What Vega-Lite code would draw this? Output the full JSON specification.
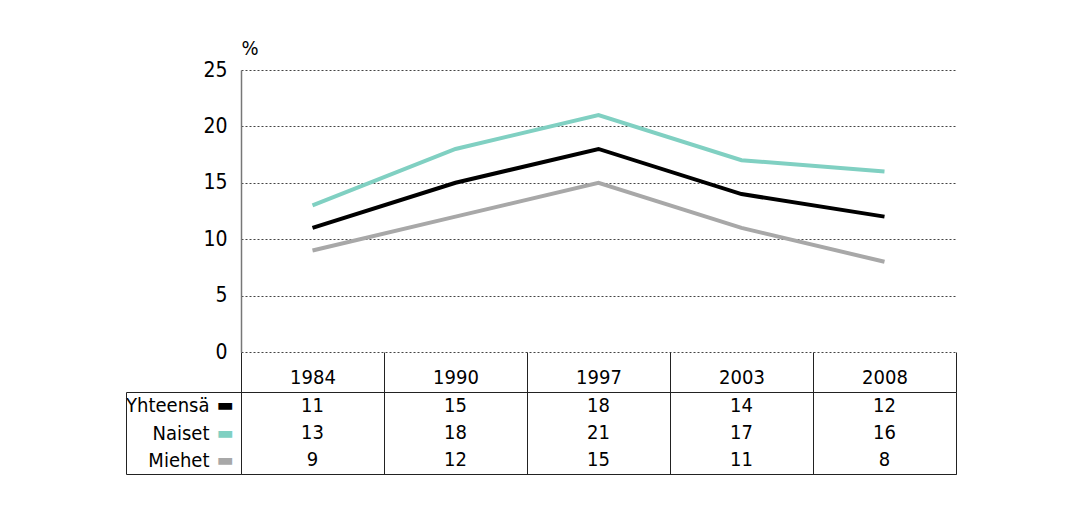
{
  "$schema": "https://vega.github.io/schema/vega-lite/v6.json",
  "padding": {"left": 125, "top": 38, "right": 10, "bottom": 10},
  "background": "white",
  "config": {
    "font": "DejaVu Sans Condensed",
    "view": {"stroke": null}
  },
  "data": {
    "values": [
      {"year": "1984", "series": "Yhteensä", "value": 11},
      {"year": "1990", "series": "Yhteensä", "value": 15},
      {"year": "1997", "series": "Yhteensä", "value": 18},
      {"year": "2003", "series": "Yhteensä", "value": 14},
      {"year": "2008", "series": "Yhteensä", "value": 12},
      {"year": "1984", "series": "Naiset", "value": 13},
      {"year": "1990", "series": "Naiset", "value": 18},
      {"year": "1997", "series": "Naiset", "value": 21},
      {"year": "2003", "series": "Naiset", "value": 17},
      {"year": "2008", "series": "Naiset", "value": 16},
      {"year": "1984", "series": "Miehet", "value": 9},
      {"year": "1990", "series": "Miehet", "value": 12},
      {"year": "1997", "series": "Miehet", "value": 15},
      {"year": "2003", "series": "Miehet", "value": 11},
      {"year": "2008", "series": "Miehet", "value": 8}
    ]
  },
  "spacing": 40,
  "bounds": "flush",
  "vconcat": [
    {
      "width": 715,
      "height": 282,
      "mark": {"type": "line", "strokeWidth": 4},
      "encoding": {
        "x": {
          "field": "year", "type": "ordinal",
          "scale": {"paddingInner": 0, "paddingOuter": 0},
          "axis": {"title": null, "domain": false, "grid": false, "tickBand": "extent", "tickSize": 40, "tickColor": "#222", "tickWidth": 1, "labelAngle": 0, "labelFontSize": 20, "labelColor": "#000", "labelPadding": -25, "labelBaseline": "top"}
        },
        "y": {
          "field": "value", "type": "quantitative",
          "scale": {"domain": [0, 25]},
          "axis": {"values": [0, 5, 10, 15, 20, 25], "title": "%", "titleAngle": 0, "titleX": 0, "titleY": -12, "titleAlign": "left", "titleBaseline": "bottom", "titleFontSize": 20, "titleFontWeight": "normal", "titleColor": "#000", "labelFontSize": 21, "labelColor": "#000", "ticks": false, "labelPadding": 14, "domainColor": "#777", "domainWidth": 1.5, "gridDash": [2, 2], "gridColor": "#444", "gridOpacity": 1}
        },
        "color": {
          "field": "series", "type": "nominal",
          "scale": {"domain": ["Yhteensä", "Naiset", "Miehet"], "range": ["#000000", "#80d0c2", "#a8a8a8"]},
          "legend": null
        }
      }
    },
    {
      "width": 715,
      "height": 82,
      "view": {"stroke": "#222"},
      "layer": [
        {
          "mark": {"type": "text", "fontSize": 20, "color": "#000"},
          "encoding": {
            "x": {
              "field": "year", "type": "ordinal",
              "scale": {"paddingInner": 0, "paddingOuter": 0},
              "axis": {"title": null, "labels": false, "ticks": false, "domain": false, "grid": true, "tickBand": "extent", "gridColor": "#222", "gridOpacity": 1, "gridWidth": 1}
            },
            "y": {
              "field": "series", "type": "nominal",
              "scale": {"domain": ["Yhteensä", "Naiset", "Miehet"], "paddingInner": 0, "paddingOuter": 0},
              "axis": {"title": null, "orient": "left", "offset": 115, "domain": true, "domainColor": "#222", "ticks": true, "tickBand": "extent", "tickSize": -115, "tickColor": "#222", "tickOpacity": {"condition": {"test": "datum.value === 'Naiset' || (datum.value === 'Yhteensä' && !datum.extra)", "value": 0}, "value": 1}, "labelFontSize": 20, "labelColor": "#000", "labelPadding": 32, "labelAlign": "right", "grid": false}
            },
            "text": {"field": "value", "type": "quantitative"}
          }
        },
        {
          "mark": {"type": "text", "fontSize": 20, "opacity": 0},
          "encoding": {
            "x": {
              "field": "year", "type": "ordinal",
              "scale": {"paddingInner": 0, "paddingOuter": 0},
              "axis": {"title": null, "labels": false, "ticks": false, "domain": false, "grid": true, "tickBand": "extent", "gridColor": "#222", "gridOpacity": 1, "gridWidth": 1}
            },
            "y": {
              "field": "series", "type": "nominal",
              "scale": {"domain": ["Yhteensä", "Naiset", "Miehet"], "paddingInner": 0, "paddingOuter": 0},
              "axis": {"title": null, "orient": "left", "offset": 0, "domain": false, "ticks": false, "grid": false, "labelExpr": "'▬'", "labelFont": "DejaVu Sans", "labelFontSize": 18, "labelPadding": 8, "labelAlign": "right", "labelColor": {"condition": [{"test": "datum.value === 'Yhteensä'", "value": "#000000"}, {"test": "datum.value === 'Naiset'", "value": "#80d0c2"}], "value": "#a8a8a8"}}
            },
            "text": {"field": "value", "type": "quantitative"}
          }
        }
      ],
      "resolve": {"scale": {"y": "independent"}, "axis": {"y": "independent"}}
    }
  ]
}
